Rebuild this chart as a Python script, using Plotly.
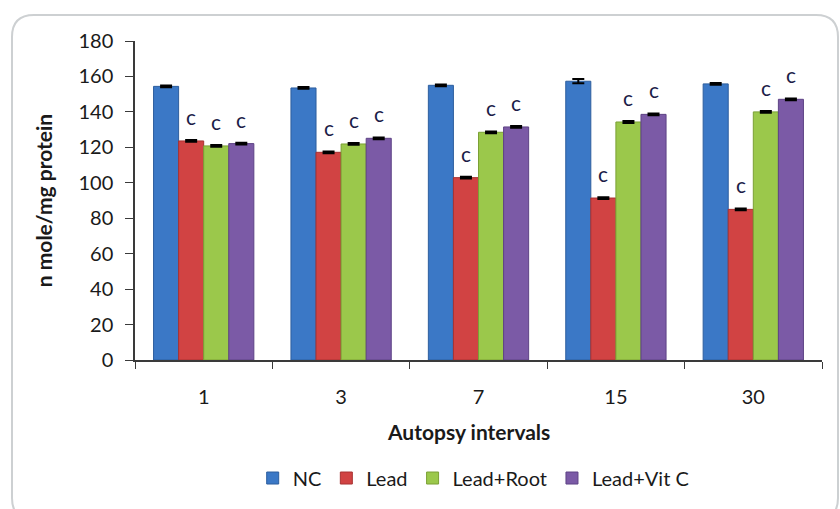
"""Grouped bar chart: enzyme level by autopsy interval and treatment."""
import plotly.graph_objects as go

intervals = ["1", "3", "7", "15", "30"]
groups = ["NC", "Lead", "Lead+Root", "Lead+Vit C"]
nc = [154.4, 153.5, 155.0, 157.3, 155.8]
lead = [123.6, 117.2, 102.9, 91.4, 85.0]
lead_root = [120.8, 121.9, 128.5, 134.3, 140.0]
lead_vitc = [122.1, 125.1, 131.5, 138.6, 147.1]
nc_err = [0.5, 0.5, 0.5, 1.2, 0.5]
lead_err = [0.5, 0.5, 0.5, 0.5, 0.5]
root_err = [0.5, 0.5, 0.5, 0.5, 0.5]
vitc_err = [0.5, 0.5, 0.5, 0.5, 0.5]
sig_letters = ["", "c", "c", "c"]

values = [nc, lead, lead_root, lead_vitc]
errors = [nc_err, lead_err, root_err, vitc_err]
colors = ["#3b78c6", "#d14343", "#9bc84b", "#7b5aa6"]
outlines = ["#2d5e9e", "#a83232", "#7ba035", "#5e4385"]

W, H = 840, 509
L, R, T, B = 135, 18, 41, 149
FONT = "Lato, 'Open Sans', sans-serif"
TXT = "#1a1a1a"
BAR_GAP = 0.27

fig = go.Figure()
for name, vals, err, col, oc in zip(groups, values, errors, colors, outlines):
    fig.add_trace(go.Bar(
        x=intervals, y=vals, name=name,
        marker=dict(color=col, line=dict(color=oc, width=1)),
        error_y=dict(type="data", array=err, color="#000000", thickness=2, width=6),
    ))

# significance letters above treated bars (category axis -> index positions)
cat_px = (W - L - R) / len(intervals)
bar_px = cat_px * (1 - BAR_GAP) / len(groups)
for gi, (vals, err, letter) in enumerate(zip(values, errors, sig_letters)):
    if not letter:
        continue
    shift = (gi - (len(groups) - 1) / 2) * bar_px
    for ci, (v, e) in enumerate(zip(vals, err)):
        fig.add_annotation(
            x=ci, y=v + e, text=letter, showarrow=False,
            xshift=shift, yshift=9, yanchor="bottom",
            font=dict(family=FONT, size=21, color="#1c1c48"),
        )

# x-axis title sits a little left of the plot centre in the original
fig.add_annotation(
    x=(468 - L) / (W - L - R), y=-0.225, xref="paper", yref="paper",
    text="<b>Autopsy intervals</b>", showarrow=False, yanchor="middle",
    font=dict(family=FONT, size=21, color=TXT),
)


# rounded chart frame, expressed in paper coordinates
def px(xp, yp):
    return (xp - L) / (W - L - R), (H - B - yp) / (H - T - B)


x0, y0, x1, y1, rad = 12, 15, 838, 520, 22
pts = [
    ("M", x0 + rad, y0), ("L", x1 - rad, y0), ("Q", x1, y0, x1, y0 + rad),
    ("L", x1, y1 - rad), ("Q", x1, y1, x1 - rad, y1), ("L", x0 + rad, y1),
    ("Q", x0, y1, x0, y1 - rad), ("L", x0, y0 + rad), ("Q", x0, y0, x0 + rad, y0),
]
path = ""
for p in pts:
    cmd, coords = p[0], p[1:]
    seg = []
    for i in range(0, len(coords), 2):
        a, b = px(coords[i], coords[i + 1])
        seg.append(f"{a:.5f},{b:.5f}")
    path += cmd + " ".join(seg) + " "
fig.add_shape(type="path", path=path + "Z", xref="paper", yref="paper",
              line=dict(color="#cdd0d2", width=2), layer="below")

fig.update_layout(
    width=W, height=H,
    margin=dict(l=L, r=R, t=T, b=B),
    paper_bgcolor="white", plot_bgcolor="white",
    barmode="group", bargap=BAR_GAP, bargroupgap=0,
    font=dict(family=FONT, size=20, color=TXT),
    showlegend=True,
    legend=dict(orientation="h", x=0.493, xanchor="center", y=-0.37, yanchor="middle",
                font=dict(size=20), traceorder="normal", itemwidth=30),
)
fig.update_xaxes(
    type="category", range=[-0.5, len(intervals) - 0.5],
    showline=True, linecolor="#3a3a3a", linewidth=1.5,
    ticks="outside", ticklen=7, tickcolor="#3a3a3a", tickson="boundaries",
    ticklabelstandoff=18, tickangle=0, showgrid=False, automargin=False,
)
fig.update_yaxes(
    range=[0, 180], dtick=20, showline=True, linecolor="#3a3a3a", linewidth=1.5,
    ticks="outside", ticklen=8, tickcolor="#3a3a3a", ticklabelstandoff=8,
    showgrid=False, zeroline=False, automargin=False,
    title=dict(text="<b>n mole/mg protein</b>", font=dict(size=21), standoff=20),
)

fig.write_html("out.html", config={"displayModeBar": False},
               post_script="document.body.style.margin='0';")
